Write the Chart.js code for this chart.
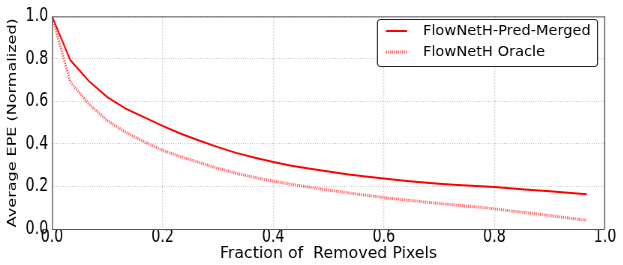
<!DOCTYPE html>
<html>
<head>
<meta charset="utf-8">
<script src="https://cdn.jsdelivr.net/npm/chart.js@4/dist/chart.umd.min.js"></script>
<style>
  html, body { margin: 0; padding: 0; background: #fff; overflow: hidden; }
  #wrap { width: 623px; height: 265px; overflow: hidden; }
  /* tick labels in the original are narrow, so the canvas is drawn wider and squeezed */
  #chart { transform: scaleX(0.75); transform-origin: 0 0; }
</style>
</head>
<body>
<div id="wrap"><canvas id="chart"></canvas></div>
<script>
// fraction of removed pixels (x), 30 steps of 1/30
const fractions = [0, 0.033, 0.067, 0.1, 0.133, 0.167, 0.2, 0.233, 0.267, 0.3,
  0.333, 0.367, 0.4, 0.433, 0.467, 0.5, 0.533, 0.567, 0.6, 0.633,
  0.667, 0.7, 0.733, 0.767, 0.8, 0.833, 0.867, 0.9, 0.933, 0.967]

const mergedEPE = [1.0, 0.795, 0.695, 0.62, 0.566, 0.525, 0.485, 0.448, 0.415, 0.385,
  0.358, 0.335, 0.315, 0.298, 0.283, 0.27, 0.258, 0.247, 0.237, 0.228,
  0.22, 0.213, 0.207, 0.202, 0.197, 0.19, 0.184, 0.177, 0.171, 0.164]

const oracleEPE = [1.0, 0.692, 0.587, 0.51, 0.455, 0.41, 0.37, 0.34, 0.312, 0.285,
  0.262, 0.242, 0.225, 0.21, 0.196, 0.183, 0.171, 0.159, 0.148, 0.138,
  0.129, 0.12, 0.112, 0.104, 0.095, 0.084, 0.074, 0.063, 0.052, 0.041]

const seriesLabels = ["FlowNetH-Pred-Merged", "FlowNetH Oracle"]
const xTitle = "Fraction of  Removed Pixels"
const yTitle = "Average EPE (Normalized)"

const SQUEEZE = 0.75
const FONT = "'DejaVu Sans', sans-serif"

function toPoints(ys) {
  return ys.map(function(y, i) {
    return {x: fractions[i], y: y}
  })
}

// frame, x title and legend, drawn in unsqueezed css pixels
const framePlugin = {
  id: "frame",
  afterDraw(chart) {
    const ctx = chart.ctx
    const a = chart.chartArea
    ctx.save()
    ctx.scale(1 / SQUEEZE, 1)
    const left = a.left * SQUEEZE, right = a.right * SQUEEZE

    ctx.strokeStyle = "#555"
    ctx.lineWidth = 1
    ctx.strokeRect(left + 0.5, a.top + 0.5, right - left - 1, a.bottom - a.top)

    ctx.fillStyle = "#000"
    ctx.font = "15.8px " + FONT
    ctx.textAlign = "center"
    ctx.textBaseline = "middle"
    ctx.fillText(xTitle, (left + right) / 2, 254)

    const bx = 377, by = 19, bw = 220, bh = 47
    ctx.beginPath()
    ctx.roundRect(bx + 0.5, by + 0.5, bw, bh, 3)
    ctx.fillStyle = "#fff"
    ctx.fill()
    ctx.strokeStyle = "#222"
    ctx.stroke()

    chart.data.datasets.forEach(function(ds, i) {
      const y = by + 12 + i * 21
      ctx.beginPath()
      ctx.setLineDash(ds.borderDash ? [1, 1] : [])
      ctx.strokeStyle = ds.borderColor
      ctx.lineWidth = ds.borderWidth
      ctx.moveTo(bx + 9, y)
      ctx.lineTo(bx + 30, y)
      ctx.stroke()
      ctx.setLineDash([])
      ctx.fillStyle = "#000"
      ctx.font = "14.6px " + FONT
      ctx.textAlign = "left"
      ctx.textBaseline = "middle"
      ctx.fillText(ds.label, bx + 46, y)
    })
    ctx.restore()
  }
}

const canvas = document.getElementById("chart")
canvas.width = Math.round(623 / SQUEEZE)
canvas.height = 265
const ctx = canvas.getContext("2d")

new Chart(ctx, {
  type: "line",
  data: {
    datasets: [
      {
        label: seriesLabels[0],
        data: toPoints(mergedEPE),
        borderColor: "rgb(255, 0, 0)",
        borderWidth: 2,
        pointRadius: 0,
        tension: 0,
        fill: false
      },
      {
        label: seriesLabels[1],
        data: toPoints(oracleEPE),
        borderColor: "rgba(255, 40, 40, 0.75)",
        borderWidth: 3,
        borderDash: [1.3, 1.3],
        pointRadius: 0,
        tension: 0,
        fill: false
      }
    ]
  },
  options: {
    responsive: false,
    animation: false,
    devicePixelRatio: 1,
    layout: { padding: { top: 12, right: Math.round(623 / SQUEEZE) - 605 / SQUEEZE, left: 0, bottom: 0 } },
    plugins: {
      legend: { display: false },
      tooltip: { enabled: false }
    },
    scales: {
      x: {
        type: "linear",
        min: 0,
        max: 1,
        afterFit: function(scale) { scale.height = 36 },
        ticks: {
          stepSize: 0.2,
          color: "#000",
          padding: -1,
          font: { family: FONT, size: 19, lineHeight: 1 },
          maxRotation: 0,
          callback: function(v) { return v.toFixed(1) }
        },
        grid: { color: "#bbb", lineWidth: 1.33, drawTicks: false },
        border: { display: false, dash: [1, 2] },
        title: { display: false }
      },
      y: {
        min: 0,
        max: 1,
        afterFit: function(scale) { scale.width = 52 / SQUEEZE },
        ticks: {
          stepSize: 0.2,
          color: "#000",
          padding: 5,
          font: { family: FONT, size: 19 },
          callback: function(v) { return v.toFixed(1) }
        },
        grid: { color: "#bbb", lineWidth: 1, drawTicks: false },
        border: { display: false, dash: [1, 2] },
        title: {
          display: true,
          text: yTitle,
          color: "#000",
          font: { family: FONT, size: 16 },
          padding: { top: 7, bottom: 0 }
        }
      }
    }
  },
  plugins: [framePlugin]
})
</script>
</body>
</html>
